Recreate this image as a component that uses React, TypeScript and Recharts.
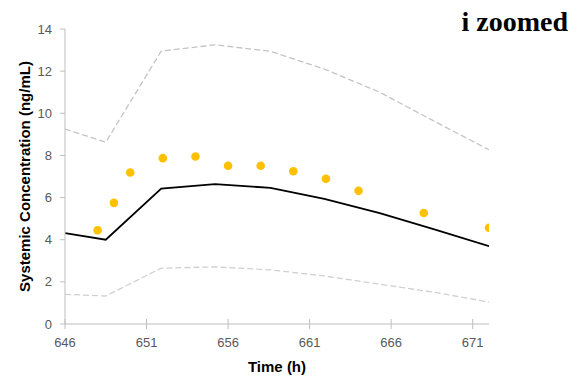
import {
  ComposedChart,
  Line,
  Scatter,
  XAxis,
  YAxis,
  Label,
} from "recharts";

// model prediction times (h)
const modelTimes = [646, 648.5, 651.9, 655.2, 658.6, 661.9, 665.3, 668.7, 672];
// median, 95th and 5th percentile (ng/mL)
const medianConc = [4.31, 4.0, 6.43, 6.64, 6.46, 5.94, 5.26, 4.48, 3.69];
const upperConc = [9.25, 8.63, 12.95, 13.25, 12.94, 12.1, 11.0, 9.6, 8.27];
const lowerConc = [1.41, 1.33, 2.65, 2.71, 2.57, 2.28, 1.89, 1.5, 1.04];

// observed data
const obsTimes = [648, 649, 650, 652, 654, 656, 658, 660, 662, 664, 668, 672];
const obsConc = [4.45, 5.75, 7.19, 7.87, 7.95, 7.51, 7.51, 7.25, 6.89, 6.32, 5.27, 4.57];

const xTicks = [646, 651, 656, 661, 666, 671];
const yTicks = [0, 2, 4, 6, 8, 10, 12, 14];

const toSeries = (ys: number[]) => modelTimes.map((t, i) => ({ t, v: ys[i] }));
const medianData = toSeries(medianConc);
const upperData = toSeries(upperConc);
const lowerData = toSeries(lowerConc);
const obsData = obsTimes.map((t, i) => ({ t, v: obsConc[i] }));

const AXIS_GRAY = "#BFBFBF";
const TICK_FONT = { fontSize: 13, fill: "#595959", fontFamily: "Liberation Sans, Arial, sans-serif" };

const Dot = (props: any) => {
  const { cx, cy } = props;
  if (cx == null || cy == null) return null;
  return <circle cx={cx} cy={cy} r={4.3} fill="#FFC000" />;
};

export default function App() {
  return (
    <div style={{ position: "absolute", left: 0, top: 0, width: 579, height: 381, background: "#fff" }}>
      <ComposedChart
        width={579}
        height={381}
        margin={{ top: 29, right: 90, bottom: 27, left: 10 }}
      >
        {/* ticks cross the x axis, like Excel */}
        <XAxis
          type="number"
          dataKey="t"
          domain={[646, 672]}
          ticks={xTicks}
          allowDataOverflow
          height={30}
          stroke={AXIS_GRAY}
          tickSize={10}
          tickLine={{ transform: "translate(0,-5)" }}
          tickMargin={4}
          tick={TICK_FONT}
        >
          <Label
            value="Time (h)"
            position="bottom"
            offset={7}
            style={{ fontSize: 15, fontWeight: "bold", fill: "#000", fontFamily: "Liberation Sans, Arial, sans-serif" }}
          />
        </XAxis>
        <YAxis
          type="number"
          dataKey="v"
          domain={[0, 14]}
          ticks={yTicks}
          width={55}
          stroke={AXIS_GRAY}
          tickSize={5}
          tickMargin={8}
          tick={TICK_FONT}
        >
          <Label
            value="Systemic Concentration (ng/mL)"
            angle={-90}
            position="insideLeft"
            offset={15}
            textAnchor="middle"
            style={{ fontSize: 15, fontWeight: "bold", fill: "#000", fontFamily: "Liberation Sans, Arial, sans-serif", textAnchor: "middle" }}
          />
        </YAxis>
        <Line
          data={upperData}
          dataKey="v"
          stroke="#C4C4C4"
          strokeWidth={1.3}
          strokeDasharray="6 3"
          dot={false}
          isAnimationActive={false}
        />
        <Line
          data={lowerData}
          dataKey="v"
          stroke="#D0D0D0"
          strokeWidth={1.3}
          strokeDasharray="6 3"
          dot={false}
          isAnimationActive={false}
        />
        <Line
          data={medianData}
          dataKey="v"
          stroke="#000"
          strokeWidth={1.8}
          dot={false}
          isAnimationActive={false}
        />
        <Scatter data={obsData} dataKey="v" shape={Dot} isAnimationActive={false} />
      </ComposedChart>
      <div
        style={{
          position: "absolute",
          top: 8,
          right: 11,
          fontFamily: "Liberation Serif, serif",
          fontWeight: "bold",
          fontSize: 28,
          lineHeight: "28px",
          color: "#000",
        }}
      >
        i zoomed
      </div>
    </div>
  );
}
